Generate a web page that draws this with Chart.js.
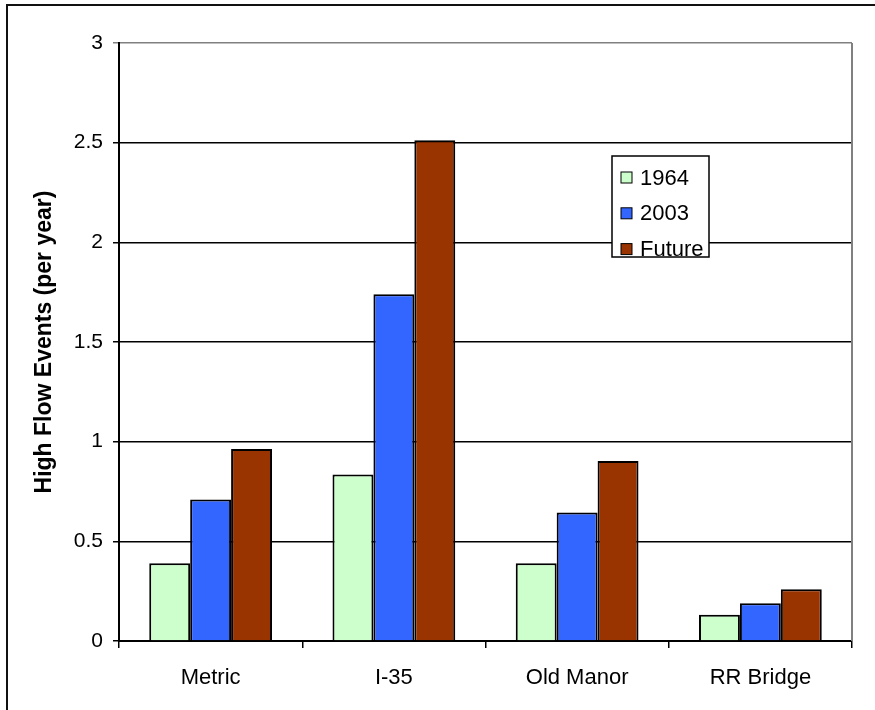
<!DOCTYPE html>
<html lang="en">
<head>
    <meta charset="UTF-8">
    <title>High Flow Events</title>
    <script src="https://cdn.jsdelivr.net/npm/chart.js"></script>
    <style>
        body {
            margin: 0;
            background-color: white;
        }
        .chart-container {
            position: relative;
            width: 875px;
            height: 710px;
        }
    </style>
</head>
<body>
    <div class="chart-container">
        <canvas id="flowChart"></canvas>
    </div>
    <script>
        const sites = ['Metric', 'I-35', 'Old Manor', 'RR Bridge'];
        const events1964 = [0.39, 0.835, 0.39, 0.132];
        const events2003 = [0.71, 1.74, 0.645, 0.19];
        const eventsFuture = [0.963, 2.512, 0.903, 0.259];
        const yTicks = [0, 0.5, 1, 1.5, 2, 2.5, 3];

        const FONT = 'Arial, "Liberation Sans", sans-serif';

        // outer frame, plot border on the right and the boxed legend
        const framePlugin = {
            id: 'frame',
            beforeDraw(chart) {
                const c = chart.ctx;
                c.save();
                c.fillStyle = 'white';
                c.fillRect(0, 0, chart.width, chart.height);
                c.strokeStyle = '#111';
                c.lineWidth = 2;
                c.beginPath();
                c.moveTo(7, chart.height + 5);
                c.lineTo(7, 5);
                c.lineTo(chart.width + 5, 5);
                c.stroke();
                c.restore();
            },
            afterDraw(chart) {
                const c = chart.ctx;
                const a = chart.chartArea;
                c.save();
                c.strokeStyle = '#808080';
                c.lineWidth = 2;
                c.beginPath();
                c.moveTo(a.right, a.top);
                c.lineTo(a.right, a.bottom);
                c.stroke();

                // legend box
                const bx = 612, by = 156, bw = 97, bh = 101;
                c.fillStyle = 'white';
                c.fillRect(bx, by, bw, bh);
                c.strokeStyle = '#000';
                c.lineWidth = 1.5;
                c.strokeRect(bx, by, bw, bh);
                c.font = '22px ' + FONT;
                c.textBaseline = 'middle';
                chart.data.datasets.forEach((ds, i) => {
                    const cy = 177.5 + i * 35.8;
                    c.fillStyle = ds.backgroundColor;
                    c.fillRect(621, cy - 5.5, 11, 11);
                    c.lineWidth = 1;
                    c.strokeStyle = '#000';
                    c.strokeRect(621, cy - 5.5, 11, 11);
                    c.fillStyle = '#000';
                    c.fillText(ds.label, 640, cy + 1);
                });
                c.restore();
            }
        };

        const ctx = document.getElementById('flowChart').getContext('2d');
        new Chart(ctx, {
            type: 'bar',
            data: {
                labels: sites,
                datasets: [{
                    label: '1964',
                    data: events1964,
                    backgroundColor: '#CCFFCC',
                    borderColor: '#000',
                    borderWidth: 2
                }, {
                    label: '2003',
                    data: events2003,
                    backgroundColor: '#3366FF',
                    borderColor: '#000',
                    borderWidth: 2
                }, {
                    label: 'Future',
                    data: eventsFuture,
                    backgroundColor: '#993300',
                    borderColor: '#000',
                    borderWidth: 2
                }]
            },
            options: {
                responsive: true,
                maintainAspectRatio: false,
                animation: false,
                categoryPercentage: 0.67,
                barPercentage: 1.0,
                layout: {
                    padding: { left: 31, top: 43, right: 23, bottom: 0 }
                },
                plugins: {
                    legend: { display: false },
                    tooltip: { enabled: false }
                },
                scales: {
                    y: {
                        min: 0,
                        max: 3,
                        afterFit(scale) { scale.width = 88; },
                        afterBuildTicks(scale) {
                            scale.ticks = yTicks.map(v => ({ value: v }));
                        },
                        title: {
                            display: true,
                            text: 'High Flow Events (per year)',
                            color: '#000',
                            font: { family: FONT, size: 23, weight: 'bold' },
                            padding: { top: 0, bottom: 0 }
                        },
                        ticks: {
                            color: '#000',
                            padding: 10,
                            font: { family: FONT, size: 21 },
                            callback: v => String(v)
                        },
                        grid: {
                            color: c => c.tick && c.tick.value === 3 ? '#808080' : '#000',
                            lineWidth: 1.5,
                            tickLength: 6
                        },
                        border: { color: '#000', width: 2 }
                    },
                    x: {
                        afterFit(scale) { scale.height = 69; },
                        ticks: {
                            color: '#000',
                            padding: 17,
                            font: { family: FONT, size: 22 }
                        },
                        grid: {
                            drawOnChartArea: false,
                            color: '#000',
                            lineWidth: 1.5,
                            tickLength: 7
                        },
                        border: { color: '#000', width: 2 }
                    }
                }
            },
            plugins: [framePlugin]
        });
    </script>
</body>
</html>
